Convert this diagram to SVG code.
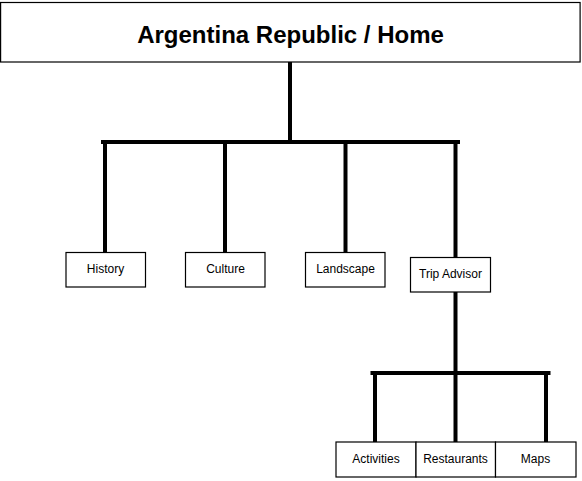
<svg xmlns="http://www.w3.org/2000/svg" width="582" height="481" viewBox="0 0 582 481">
<style>
.box{fill:#fff;stroke:#000;stroke-width:1.2}
.lbl{font-family:"Liberation Sans",Arial,sans-serif;font-size:12px;fill:#000;text-anchor:middle}
.title{font-family:"Liberation Sans",Arial,sans-serif;font-size:24px;font-weight:bold;fill:#000;text-anchor:middle}
.conn{stroke:#000;stroke-width:4;fill:none}
</style>
<rect width="582" height="481" fill="#fff"/>
<g id="connectors">
<line class="conn" x1="290" y1="62" x2="290" y2="142"/>
<line class="conn" x1="101" y1="142" x2="460" y2="142"/>
<line class="conn" x1="105" y1="142" x2="105" y2="252"/>
<line class="conn" x1="225" y1="142" x2="225" y2="252"/>
<line class="conn" x1="345.5" y1="142" x2="345.5" y2="252"/>
<line class="conn" x1="455.5" y1="142" x2="455.5" y2="257"/>
<line class="conn" x1="455.5" y1="292" x2="455.5" y2="442"/>
<line class="conn" x1="370.5" y1="373" x2="550.5" y2="373"/>
<line class="conn" x1="375" y1="373" x2="375" y2="442"/>
<line class="conn" x1="546" y1="373" x2="546" y2="442"/>
</g>
<g id="home">
<rect class="box" x="0.6" y="2.5" width="579.5" height="59.5"/>
<text class="title" x="290.5" y="43">Argentina Republic / Home</text>
</g>
<g id="history">
<rect class="box" x="66" y="252.5" width="79.5" height="34.5"/>
<text class="lbl" x="105.5" y="273">History</text>
</g>
<g id="culture">
<rect class="box" x="185.5" y="252.5" width="79.5" height="34.5"/>
<text class="lbl" x="225.5" y="273">Culture</text>
</g>
<g id="landscape">
<rect class="box" x="305.5" y="252.5" width="79.5" height="34.5"/>
<text class="lbl" x="345.5" y="273">Landscape</text>
</g>
<g id="trip-advisor">
<rect class="box" x="410.5" y="257.5" width="80" height="34.5"/>
<text class="lbl" x="450.5" y="278">Trip Advisor</text>
</g>
<g id="activities">
<rect class="box" x="336" y="442" width="80" height="35"/>
<text class="lbl" x="376" y="463">Activities</text>
</g>
<g id="restaurants">
<rect class="box" x="416" y="442" width="79.5" height="35"/>
<text class="lbl" x="455.5" y="463">Restaurants</text>
</g>
<g id="maps">
<rect class="box" x="495.5" y="442" width="80.5" height="35"/>
<text class="lbl" x="535.5" y="463">Maps</text>
</g>
</svg>
